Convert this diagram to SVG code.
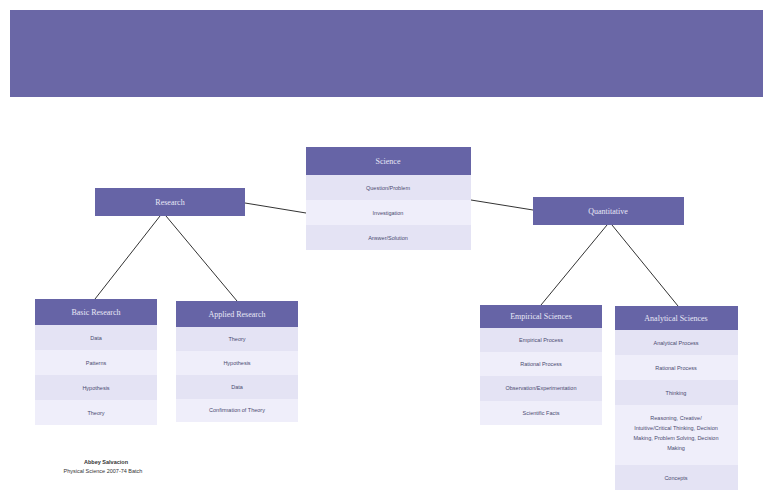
<svg xmlns="http://www.w3.org/2000/svg" width="763" height="497" viewBox="0 0 763 497">
<style>
.hd{fill:#6664a6}
.r1{fill:#e4e3f4}
.r2{fill:#efeefa}
.ht{font-family:"Liberation Serif",serif;font-size:8px;fill:#e8e8f6;text-anchor:middle}
.it{font-family:"Liberation Sans",sans-serif;font-size:5.5px;fill:#4a4a70;text-anchor:middle}
.ft{font-family:"Liberation Sans",sans-serif;font-size:5.5px;fill:#333;text-anchor:middle}
.cn{stroke:#333;stroke-width:1;fill:none}
</style>
<rect x="0" y="0" width="763" height="497" fill="#fff"/>
<rect x="10" y="10" width="753" height="87" fill="#6a67a6"/>
<g id="connectors">
<line class="cn" x1="245" y1="203" x2="306" y2="213"/>
<line class="cn" x1="471" y1="200" x2="533" y2="210"/>
<line class="cn" x1="160" y1="216" x2="95" y2="299"/>
<line class="cn" x1="166" y1="216" x2="237" y2="301"/>
<line class="cn" x1="607" y1="225" x2="541" y2="305"/>
<line class="cn" x1="612" y1="225" x2="678" y2="306"/>
</g>
<g id="science">
<rect class="hd" x="306" y="147" width="165" height="28"/>
<rect class="r1" x="306" y="175" width="165" height="25"/>
<rect class="r2" x="306" y="200" width="165" height="25"/>
<rect class="r1" x="306" y="225" width="165" height="25"/>
<text class="ht" x="388" y="164" font-size="10">Science</text>
<text class="it" x="388" y="190">Question/Problem</text>
<text class="it" x="388" y="215">Investigation</text>
<text class="it" x="388" y="240">Answer/Solution</text>
</g>
<g id="research">
<rect class="hd" x="95" y="188" width="150" height="28"/>
<text class="ht" x="170" y="205">Research</text>
</g>
<g id="quantitative">
<rect class="hd" x="533" y="197" width="151" height="28"/>
<text class="ht" x="608" y="214">Quantitative</text>
</g>
<g id="basic">
<rect class="hd" x="35" y="299" width="122" height="26"/>
<rect class="r1" x="35" y="325" width="122" height="25"/>
<rect class="r2" x="35" y="350" width="122" height="25"/>
<rect class="r1" x="35" y="375" width="122" height="25"/>
<rect class="r2" x="35" y="400" width="122" height="25"/>
<text class="ht" x="96" y="315" font-size="6.5">Basic Research</text>
<text class="it" x="96" y="340">Data</text>
<text class="it" x="96" y="365">Patterns</text>
<text class="it" x="96" y="390">Hypothesis</text>
<text class="it" x="96" y="415">Theory</text>
</g>
<g id="applied">
<rect class="hd" x="176" y="301" width="122" height="26"/>
<rect class="r1" x="176" y="327" width="122" height="24"/>
<rect class="r2" x="176" y="351" width="122" height="24"/>
<rect class="r1" x="176" y="375" width="122" height="24"/>
<rect class="r2" x="176" y="399" width="122" height="23"/>
<text class="ht" x="237" y="317" font-size="6.5">Applied Research</text>
<text class="it" x="237" y="341">Theory</text>
<text class="it" x="237" y="365">Hypothesis</text>
<text class="it" x="237" y="389">Data</text>
<text class="it" x="237" y="412">Confirmation of Theory</text>
</g>
<g id="empirical">
<rect class="hd" x="480" y="305" width="122" height="23"/>
<rect class="r1" x="480" y="328" width="122" height="24"/>
<rect class="r2" x="480" y="352" width="122" height="24"/>
<rect class="r1" x="480" y="376" width="122" height="25"/>
<rect class="r2" x="480" y="401" width="122" height="24"/>
<text class="ht" x="541" y="319" font-size="6.5">Empirical Sciences</text>
<text class="it" x="541" y="342">Empirical Process</text>
<text class="it" x="541" y="366">Rational Process</text>
<text class="it" x="541" y="390">Observation/Experimentation</text>
<text class="it" x="541" y="415">Scientific Facts</text>
</g>
<g id="rational">
<rect class="hd" x="615" y="306" width="123" height="24"/>
<rect class="r1" x="615" y="330" width="123" height="25"/>
<rect class="r2" x="615" y="355" width="123" height="25"/>
<rect class="r1" x="615" y="380" width="123" height="25"/>
<rect class="r2" x="615" y="405" width="123" height="60"/>
<rect class="r1" x="615" y="465" width="123" height="25"/>
<text class="ht" x="676" y="321" font-size="6.5">Analytical Sciences</text>
<text class="it" x="676" y="345">Analytical Process</text>
<text class="it" x="676" y="370">Rational Process</text>
<text class="it" x="676" y="395">Thinking</text>
<text class="it" x="676" y="420">Reasoning, Creative/</text>
<text class="it" x="676" y="430">Intuitive/Critical Thinking, Decision</text>
<text class="it" x="676" y="440">Making, Problem Solving, Decision</text>
<text class="it" x="676" y="450">Making</text>
<text class="it" x="676" y="480">Concepts</text>
</g>
<g id="footer">
<text class="ft" x="106" y="464" font-weight="bold">Abbey Salvacion</text>
<text class="ft" x="103" y="473">Physical Science 2007-74 Batch</text>
</g>
</svg>
